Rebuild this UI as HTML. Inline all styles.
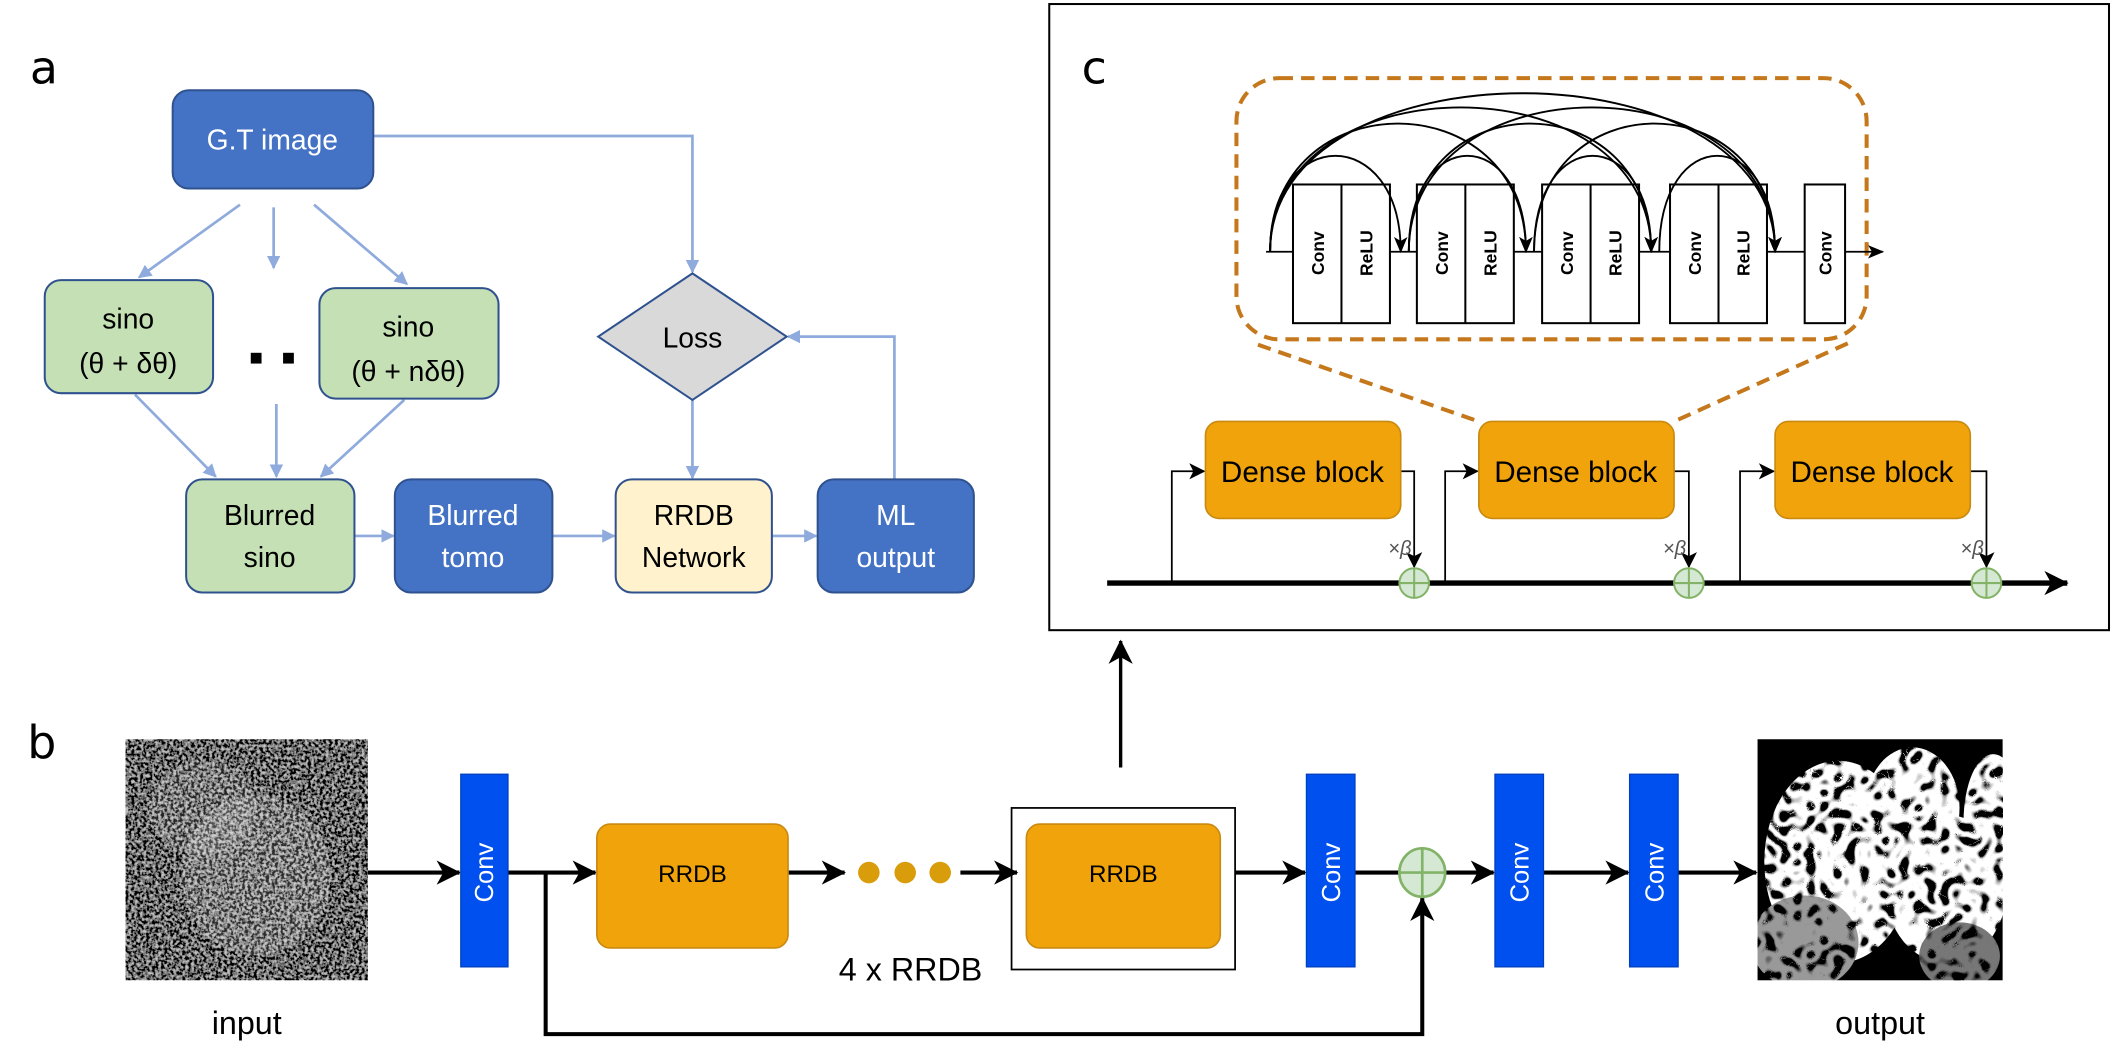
<!DOCTYPE html>
<html><head><meta charset="utf-8"><style>
html,body{margin:0;padding:0;background:#fff;}
svg{display:block;}
</style></head><body>
<svg width="2112" height="1053" viewBox="0 0 1568 782" xmlns="http://www.w3.org/2000/svg" font-family="Liberation Sans, sans-serif">
<defs>
<marker id="ab" markerWidth="10" markerHeight="10" refX="9" refY="5" orient="auto" markerUnits="userSpaceOnUse"><path d="M0,0 L10,5 L0,10 z" fill="#8faadc"/></marker>
<marker id="ak" markerWidth="12" markerHeight="12" refX="11" refY="6" orient="auto" markerUnits="userSpaceOnUse"><path d="M0,0 L12,6 L0,12 L3,6 z" fill="#000"/></marker>
<marker id="ak2" markerWidth="18" markerHeight="18" refX="17" refY="9" orient="auto" markerUnits="userSpaceOnUse"><path d="M0,0 L18,9 L0,18 L5,9 z" fill="#000"/></marker>
<marker id="as" markerWidth="12" markerHeight="12" refX="11" refY="6" orient="auto" markerUnits="userSpaceOnUse"><path d="M0,1 L12,6 L0,11 L3,6 z" fill="#000"/></marker>
<filter id="gn" x="0" y="0" width="100%" height="100%">
<feTurbulence type="fractalNoise" baseFrequency="0.45" numOctaves="2" seed="3" result="t"/>
<feColorMatrix in="t" type="matrix" values="3 0 0 0 -1.2  3 0 0 0 -1.2  3 0 0 0 -1.2  0 0 0 0 1"/>
</filter>
<filter id="gn2" x="0" y="0" width="100%" height="100%">
<feTurbulence type="turbulence" baseFrequency="0.1" numOctaves="1" seed="9" result="t"/>
<feColorMatrix in="t" type="matrix" values="-6 0 0 0 1.8  -6 0 0 0 1.8  -6 0 0 0 1.8  0 0 0 0 1"/>
</filter>
<clipPath id="cin"><rect x="93" y="549" width="180" height="179"/></clipPath>
<mask id="mout"><rect x="1305" y="549" width="182" height="179" fill="#000"/>
<ellipse cx="1365" cy="640" rx="55" ry="75" fill="#fff"/><ellipse cx="1420" cy="600" rx="35" ry="45" fill="#fff"/><ellipse cx="1445" cy="660" rx="45" ry="55" fill="#fff"/><ellipse cx="1480" cy="610" rx="22" ry="50" fill="#fff"/><ellipse cx="1340" cy="700" rx="40" ry="35" fill="#999"/><ellipse cx="1455" cy="710" rx="30" ry="25" fill="#777"/></mask>
</defs>

<!-- Panel a -->
<text x="22" y="62" font-size="34" font-family="DejaVu Sans, sans-serif">a</text>
<g stroke="#8faadc" stroke-width="2" fill="none">
<line x1="178" y1="152" x2="103" y2="206" marker-end="url(#ab)"/>
<line x1="203" y1="154" x2="203" y2="199" marker-end="url(#ab)"/>
<line x1="233" y1="152" x2="302" y2="211" marker-end="url(#ab)"/>
<polyline points="277,101 514,101 514,202" marker-end="url(#ab)"/>
<line x1="100" y1="293" x2="160" y2="354" marker-end="url(#ab)"/>
<line x1="205" y1="300" x2="205" y2="354" marker-end="url(#ab)"/>
<line x1="300" y1="297" x2="238" y2="354" marker-end="url(#ab)"/>
<line x1="263" y1="398" x2="292" y2="398" marker-end="url(#ab)"/>
<line x1="410" y1="398" x2="456" y2="398" marker-end="url(#ab)"/>
<line x1="514" y1="297" x2="514" y2="355" marker-end="url(#ab)"/>
<line x1="573" y1="398" x2="606" y2="398" marker-end="url(#ab)"/>
<polyline points="664,356 664,250 585,250" marker-end="url(#ab)"/>
</g>
<g stroke="#2f528f" stroke-width="1.5">
<rect x="128" y="67" width="149" height="73" rx="12" fill="#4472c4"/>
<rect x="33" y="208" width="125" height="84" rx="12" fill="#c5e0b4"/>
<rect x="237" y="214" width="133" height="82" rx="12" fill="#c5e0b4"/>
<rect x="138" y="356" width="125" height="84" rx="12" fill="#c5e0b4"/>
<rect x="293" y="356" width="117" height="84" rx="12" fill="#4472c4"/>
<rect x="457" y="356" width="116" height="84" rx="12" fill="#fff2cc"/>
<rect x="607" y="356" width="116" height="84" rx="12" fill="#4472c4"/>
<polygon points="514,203 584,250 514,297 444,250" fill="#d9d9d9"/>
</g>
<rect x="186" y="262" width="8" height="8" fill="#000"/><rect x="210" y="262" width="8" height="8" fill="#000"/>
<g font-size="21" text-anchor="middle">
<text x="202" y="111" fill="#fff">G.T image</text>
<text x="95" y="244">sino</text><text x="95" y="277">(θ + δθ)</text>
<text x="303" y="250">sino</text><text x="303" y="283">(θ + nδθ)</text>
<text x="200" y="390">Blurred</text><text x="200" y="421">sino</text>
<text x="351" y="390" fill="#fff">Blurred</text><text x="351" y="421" fill="#fff">tomo</text>
<text x="515" y="390">RRDB</text><text x="515" y="421">Network</text>
<text x="665" y="390" fill="#fff">ML</text><text x="665" y="421" fill="#fff">output</text>
<text x="514" y="258">Loss</text>
</g>

<!-- Panel c -->
<rect x="779" y="3" width="787" height="465" fill="none" stroke="#000" stroke-width="1.5"/>
<text x="803" y="62" font-size="34" font-family="DejaVu Sans, sans-serif">c</text>
<g stroke="#c5781b" stroke-width="3" stroke-dasharray="10,6" fill="none">
<rect x="918" y="58" width="468" height="194" rx="32"/>
<line x1="934" y1="256" x2="1098" y2="313"/>
<line x1="1372" y1="255" x2="1243" y2="313"/>
</g>
<line x1="940" y1="187" x2="1398" y2="187" stroke="#000" stroke-width="1.3" marker-end="url(#as)"/>
<g stroke="#000" stroke-width="1.5" fill="#fff">
<rect x="960" y="137" width="72" height="103"/><line x1="996" y1="137" x2="996" y2="240"/>
<rect x="1052" y="137" width="72" height="103"/><line x1="1088" y1="137" x2="1088" y2="240"/>
<rect x="1145" y="137" width="72" height="103"/><line x1="1181" y1="137" x2="1181" y2="240"/>
<rect x="1240" y="137" width="72" height="103"/><line x1="1276" y1="137" x2="1276" y2="240"/>
<rect x="1340" y="137" width="30" height="103"/>
</g>
<g font-size="13" font-weight="bold" text-anchor="middle">
<text transform="translate(983,188) rotate(-90)">Conv</text><text transform="translate(1019,188) rotate(-90)">ReLU</text>
<text transform="translate(1075,188) rotate(-90)">Conv</text><text transform="translate(1111,188) rotate(-90)">ReLU</text>
<text transform="translate(1168,188) rotate(-90)">Conv</text><text transform="translate(1204,188) rotate(-90)">ReLU</text>
<text transform="translate(1263,188) rotate(-90)">Conv</text><text transform="translate(1299,188) rotate(-90)">ReLU</text>
<text transform="translate(1360,188) rotate(-90)">Conv</text>
</g>
<g stroke="#000" stroke-width="1.4" fill="none" marker-end="url(#as)">
<path d="M943,187 C943,92 1040,92 1040,187"/>
<path d="M943,187 C943,60 1133,60 1133,187"/>
<path d="M943,187 C943,44 1226,44 1226,187"/>
<path d="M943,187 C943,30 1318,30 1318,187"/>
<path d="M1046,187 C1046,92 1133,92 1133,187"/>
<path d="M1046,187 C1046,60 1226,60 1226,187"/>
<path d="M1046,187 C1046,44 1318,44 1318,187"/>
<path d="M1139,187 C1139,92 1226,92 1226,187"/>
<path d="M1139,187 C1139,60 1318,60 1318,187"/>
<path d="M1232,187 C1232,92 1318,92 1318,187"/>
</g>
<line x1="822" y1="433" x2="1535" y2="433" stroke="#000" stroke-width="4" marker-end="url(#ak2)"/>
<g stroke="#000" stroke-width="1.3" fill="none">
<polyline points="870,433 870,350 894,350" marker-end="url(#ak)"/>
<polyline points="1040,350 1050,350 1050,421" marker-end="url(#ak)"/>
<polyline points="1073,433 1073,350 1097,350" marker-end="url(#ak)"/>
<polyline points="1243,350 1254,350 1254,421" marker-end="url(#ak)"/>
<polyline points="1292,433 1292,350 1317,350" marker-end="url(#ak)"/>
<polyline points="1463,350 1475,350 1475,421" marker-end="url(#ak)"/>
</g>
<g fill="#f0a30a" stroke="#c98a10" stroke-width="1.2">
<rect x="895" y="313" width="145" height="72" rx="10"/>
<rect x="1098" y="313" width="145" height="72" rx="10"/>
<rect x="1318" y="313" width="145" height="72" rx="10"/>
</g>
<g font-size="22" text-anchor="middle">
<text x="967" y="358">Dense block</text><text x="1170" y="358">Dense block</text><text x="1390" y="358">Dense block</text>
</g>
<g font-size="15" fill="#555" font-style="italic" text-anchor="end">
<text x="1048" y="412">×β</text><text x="1252" y="412">×β</text><text x="1473" y="412">×β</text>
</g>
<g fill="#d5e8d4" stroke="#82b366" stroke-width="1.5">
<circle cx="1050" cy="433" r="11"/><line x1="1039" y1="433" x2="1061" y2="433"/><line x1="1050" y1="422" x2="1050" y2="444"/>
<circle cx="1254" cy="433" r="11"/><line x1="1243" y1="433" x2="1265" y2="433"/><line x1="1254" y1="422" x2="1254" y2="444"/>
<circle cx="1475" cy="433" r="11"/><line x1="1464" y1="433" x2="1486" y2="433"/><line x1="1475" y1="422" x2="1475" y2="444"/>
</g>

<!-- Panel b -->
<text x="20" y="563" font-size="34" font-family="DejaVu Sans, sans-serif">b</text>
<line x1="832" y1="570" x2="832" y2="476" stroke="#000" stroke-width="2.5" marker-end="url(#ak2)"/>
<g clip-path="url(#cin)">
<rect x="93" y="549" width="180" height="179" filter="url(#gn)"/>
<rect x="93" y="549" width="180" height="179" fill="#000" opacity="0.25"/>
<ellipse cx="190" cy="650" rx="55" ry="60" fill="#fff" opacity="0.18"/>
<ellipse cx="150" cy="600" rx="40" ry="35" fill="#fff" opacity="0.15"/>
</g>
<rect x="1305" y="549" width="182" height="179" fill="#000"/>
<g mask="url(#mout)"><rect x="1305" y="549" width="182" height="179" fill="#eee"/><rect x="1305" y="549" width="182" height="179" filter="url(#gn2)"/></g>
<g font-size="24" text-anchor="middle"><text x="183" y="768">input</text><text x="1396" y="768">output</text><text x="676" y="728">4 x RRDB</text></g>
<g stroke="#000" stroke-width="3" fill="none">
<line x1="273" y1="648" x2="341" y2="648" marker-end="url(#ak2)"/>
<line x1="377" y1="648" x2="442" y2="648" marker-end="url(#ak2)"/>
<polyline points="405,648 405,768 1056,768 1056,667" marker-end="url(#ak2)"/>
<line x1="585" y1="648" x2="627" y2="648" marker-end="url(#ak2)"/>
<line x1="713" y1="648" x2="755" y2="648" marker-end="url(#ak2)"/>
<line x1="917" y1="648" x2="969" y2="648" marker-end="url(#ak2)"/>
<line x1="1006" y1="648" x2="1040" y2="648"/>
<line x1="1073" y1="648" x2="1109" y2="648" marker-end="url(#ak2)"/>
<line x1="1146" y1="648" x2="1209" y2="648" marker-end="url(#ak2)"/>
<line x1="1245" y1="648" x2="1304" y2="648" marker-end="url(#ak2)"/>
</g>
<rect x="751" y="600" width="166" height="120" fill="none" stroke="#000" stroke-width="1.3"/>
<g fill="#f0a30a" stroke="#c98a10" stroke-width="1.2">
<rect x="443" y="612" width="142" height="92" rx="10"/>
<rect x="762" y="612" width="144" height="92" rx="10"/>
</g>
<g font-size="18" text-anchor="middle"><text x="514" y="655">RRDB</text><text x="834" y="655">RRDB</text></g>
<g fill="#d99c0a"><circle cx="645" cy="648" r="8"/><circle cx="672" cy="648" r="8"/><circle cx="698" cy="648" r="8"/></g>
<g fill="#0050ef" stroke="#0040c0" stroke-width="1">
<rect x="342" y="575" width="35" height="143"/><rect x="970" y="575" width="36" height="143"/>
<rect x="1110" y="575" width="36" height="143"/><rect x="1210" y="575" width="36" height="143"/>
</g>
<g font-size="19" fill="#fff" text-anchor="middle">
<text transform="translate(366,648) rotate(-90)">Conv</text><text transform="translate(995,648) rotate(-90)">Conv</text>
<text transform="translate(1135,648) rotate(-90)">Conv</text><text transform="translate(1235,648) rotate(-90)">Conv</text>
</g>
<g fill="#d5e8d4" stroke="#82b366" stroke-width="2">
<ellipse cx="1056" cy="648" rx="17" ry="18"/><line x1="1039" y1="648" x2="1073" y2="648"/><line x1="1056" y1="630" x2="1056" y2="666"/>
</g>
</svg>
</body></html>
